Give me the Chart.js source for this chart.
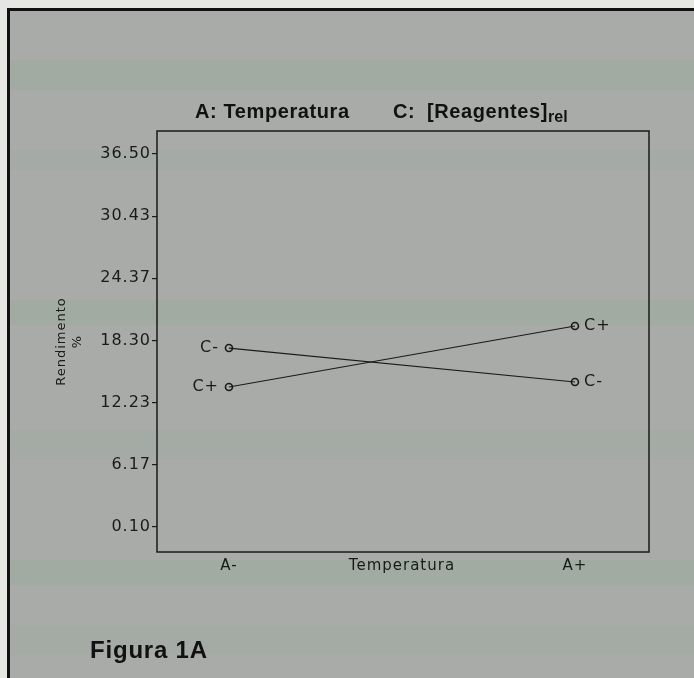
<!DOCTYPE html>
<html>
<head>
<meta charset="utf-8">
<script src="https://cdn.jsdelivr.net/npm/chart.js@4"></script>
<style>
  html, body { margin: 0; padding: 0; background: #e6e6e3; }
  canvas { display: block; }
</style>
</head>
<body>
<canvas id="c" width="694" height="678"></canvas>
<script>
// ---- data ----
const categories = ['A-', 'A+'];
const categoryPositions = [0, 1];
const seriesNames = ['C-', 'C+'];
const seriesCminus = [17.56, 14.25];
const seriesCplus = [13.76, 19.71];
const yTicks = [0.10, 6.17, 12.23, 18.30, 24.37, 30.43, 36.50];
const xTickPositions = [0, 0.5, 1];
const xTickLabels = ['A-', 'Temperatura', 'A+'];
const yTitle = ['Rendimento', '%'];
const titleLeft = 'A: Temperatura';
const titleMidA = 'C:';
const titleMidB = '[Reagentes]';
const titleSub = 'rel';
const figureLabel = 'Figura 1A';

const seriesValues = [seriesCminus, seriesCplus];

const INK = '#1a1a1a';
const AXIS_FONT = 'DejaVu Sans';
const SPACING = '1px';

const bgPlugin = {
  id: 'bg',
  beforeDraw(chart) {
    const ctx = chart.ctx;
    ctx.save();
    ctx.letterSpacing = '0px';
    ctx.fillStyle = '#e6e6e3';
    ctx.fillRect(0, 0, 694, 678);
    ctx.fillStyle = '#a8aba7';
    ctx.fillRect(9, 9, 694, 678);
    const bands = [[60, 30, 'rgba(140,170,145,0.18)'], [150, 20, 'rgba(140,170,145,0.15)'],
                   [300, 25, 'rgba(140,170,145,0.18)'], [430, 30, 'rgba(140,170,145,0.15)'],
                   [560, 25, 'rgba(140,170,145,0.18)'], [625, 30, 'rgba(140,170,145,0.12)']];
    for (const b of bands) { ctx.fillStyle = b[2]; ctx.fillRect(9, b[0], 694, b[1]); }
    ctx.strokeStyle = '#111';
    ctx.lineWidth = 3;
    ctx.beginPath();
    ctx.moveTo(8.5, 678); ctx.lineTo(8.5, 9.5); ctx.lineTo(694, 9.5);
    ctx.stroke();
    ctx.restore();
    ctx.letterSpacing = SPACING;
  }
};

const framePlugin = {
  id: 'frame',
  afterDraw(chart) {
    const ctx = chart.ctx;
    const a = chart.chartArea;
    ctx.save();
    ctx.letterSpacing = '0px';
    ctx.strokeStyle = INK;
    ctx.lineWidth = 1.5;
    ctx.strokeRect(a.left, a.top, a.right - a.left, a.bottom - a.top);

    // title
    ctx.fillStyle = '#111';
    ctx.textBaseline = 'alphabetic';
    ctx.textAlign = 'left';
    ctx.letterSpacing = '0.6px';
    ctx.font = 'bold 20px "Liberation Sans", Arial, sans-serif';
    ctx.fillText(titleLeft, 195, 118);
    ctx.fillText(titleMidA, 393, 118);
    ctx.fillText(titleMidB, 427, 118);
    const w = ctx.measureText(titleMidB).width;
    ctx.letterSpacing = '0px';
    ctx.font = 'bold 16px "Liberation Sans", Arial, sans-serif';
    ctx.fillText(titleSub, 427 + w, 122);

    // figure label
    ctx.letterSpacing = '0.8px';
    ctx.font = 'bold 24px "Liberation Sans", Arial, sans-serif';
    ctx.fillText(figureLabel, 90, 658);
    ctx.restore();
  }
};

const labelPlugin = {
  id: 'pointLabels',
  afterDatasetsDraw(chart) {
    const ctx = chart.ctx;
    ctx.save();
    ctx.letterSpacing = SPACING;
    ctx.font = '16px "' + AXIS_FONT + '", sans-serif';
    ctx.fillStyle = INK;
    ctx.textBaseline = 'middle';
    chart.data.datasets.forEach((ds, i) => {
      const meta = chart.getDatasetMeta(i);
      const first = meta.data[0];
      const last = meta.data[meta.data.length - 1];
      ctx.textAlign = 'right';
      ctx.fillText(ds.label, first.x - 10, first.y);
      ctx.textAlign = 'left';
      ctx.fillText(ds.label, last.x + 9, last.y);
    });
    ctx.restore();
  }
};

const datasets = seriesNames.map((name, i) => ({
  label: name,
  data: categoryPositions.map((x, j) => ({ x: x, y: seriesValues[i][j] })),
  borderColor: INK,
  borderWidth: 1.2,
  backgroundColor: 'rgba(0,0,0,0)',
  pointRadius: 3.5,
  pointBorderWidth: 1.6,
  pointBorderColor: INK,
  pointBackgroundColor: 'rgba(0,0,0,0)',
  tension: 0
}));

new Chart(document.getElementById('c'), {
  type: 'line',
  data: { datasets },
  plugins: [bgPlugin, framePlugin, labelPlugin],
  options: {
    responsive: false,
    animation: false,
    layout: { padding: { left: 0, top: 131, right: 45, bottom: 0 } },
    plugins: { legend: { display: false }, tooltip: { enabled: false }, title: { display: false } },
    scales: {
      x: {
        type: 'linear',
        min: -0.208,
        max: 1.214,
        afterBuildTicks(scale) { scale.ticks = xTickPositions.map(v => ({ value: v })); },
        afterFit(scale) { scale.height = 126; },
        grid: { display: false, drawTicks: false },
        border: { display: false },
        ticks: {
          autoSkip: false,
          maxRotation: 0,
          padding: 5,
          color: INK,
          font: { family: AXIS_FONT, size: 15 },
          callback: (v, i) => xTickLabels[i]
        }
      },
      y: {
        type: 'linear',
        min: -2.34,
        max: 38.74,
        afterBuildTicks(scale) { scale.ticks = yTicks.map(v => ({ value: v })); },
        afterFit(scale) { scale.width = 157; },
        grid: { drawOnChartArea: false, drawTicks: true, tickLength: 5, color: INK, lineWidth: 1.2 },
        border: { display: false },
        ticks: {
          autoSkip: false,
          padding: 1,
          color: INK,
          font: { family: AXIS_FONT, size: 16 },
          callback: (v, i) => yTicks[i].toFixed(2)
        },
        title: {
          display: true,
          text: yTitle,
          color: INK,
          font: { family: AXIS_FONT, size: 13, lineHeight: '16px' },
          padding: { top: 54, bottom: 0 }
        }
      }
    }
  }
});
</script>
</body>
</html>
